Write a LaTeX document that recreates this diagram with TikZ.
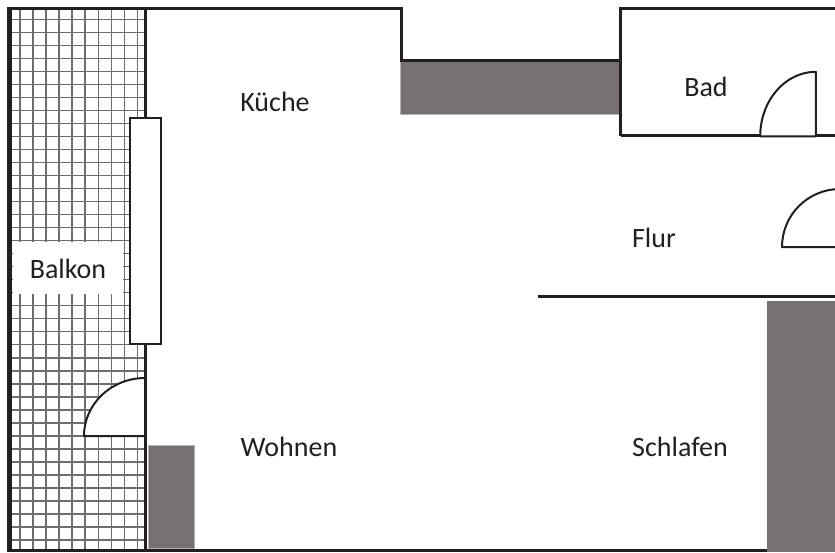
\documentclass[tikz,border=0pt]{standalone}
\usepackage{fontspec}
\setmainfont{Carlito}
\definecolor{wallc}{HTML}{231F20}
\definecolor{massc}{HTML}{767170}
\definecolor{gridc}{HTML}{6F6D6D}
\tikzset{
  wall/.style={draw=wallc,line width=#1,line cap=butt,line join=miter},
  wall/.default=3pt,
  mass/.style={fill=massc,draw=massc!55!white,line width=0.6pt},
  gridline/.style={draw=gridc,line width=1.35pt},
  doorleaf/.style={draw=wallc,fill=white,line width=2pt,line join=round},
  roomlabel/.style={text=wallc,font=\fontsize{28pt}{32pt}\selectfont,inner sep=0pt}
}
\begin{document}
\begin{tikzpicture}[x=1pt,y=-1pt]
\useasboundingbox[fill=white] (0,0) rectangle (835,552);
% balcony tiling
\foreach \k in {0,...,9} {
  \draw[gridline] ({20+13.03*\k},9) -- ({20+13.03*\k},550);
}
\foreach \k in {0,...,40} {
  \draw[gridline] (11,{19.3+13.02*\k}) -- (145,{19.3+13.02*\k});
}
% clear area behind the balcony label
\fill[white] (13,241.7) rectangle (123,293.6);
% solid masses
\fill[mass] (400,61) rectangle (621,114);
\fill[mass] (148,445.7) rectangle (194,548.5);
\fill[massc] (767,301) rectangle (835,552);
% outer walls
\draw[wall=4.8pt] (9.1,6.9) -- (9.1,552);
\draw[wall=3pt] (7,8.5) -- (403.2,8.5);
\draw[wall=3pt] (145,8.5) -- (145,119);
\draw[wall=3pt] (145,344) -- (145,550);
\draw[wall=3.4pt] (7,550.3) -- (767,550.3);
% recess and bathroom
\draw[wall=2.6pt] (401.7,8.5) -- (401.7,60.6) -- (620.7,60.6);
\draw[wall=3pt] (835,8.5) -- (620.7,8.5) -- (620.7,136);
\draw[wall=2.4pt] (620.7,135.6) -- (835,135.6);
% partition
\draw[wall=3.2pt] (538,296.7) -- (835,296.7);
% window
\draw[draw=wallc,fill=white,line width=2pt] (130,118.3) rectangle (161,344.3);
% doors
\draw[doorleaf] (145,378) arc[start angle=90,end angle=180,x radius=61,y radius=-58] -- (145,436) -- cycle;
\draw[doorleaf] (815.8,71.8) arc[start angle=90,end angle=180,x radius=55.6,y radius=-64.6] -- (815.8,136.4) -- cycle;
\draw[doorleaf] (840,189) arc[start angle=90,end angle=180,x radius=58,y radius=-58] -- (840,247) -- cycle;
% labels
\node[roomlabel] (kueche) at (275,102) {Küche};
\node[roomlabel] (bad) at (706,87) {Bad};
\node[roomlabel] (flur) at (654,238) {Flur};
\node[roomlabel] (balkon) at (68,269) {Balkon};
\node[roomlabel] (wohnen) at (289,447) {Wohnen};
\node[roomlabel] (schlafen) at (680,447) {Schlafen};
\end{tikzpicture}
\end{document}
